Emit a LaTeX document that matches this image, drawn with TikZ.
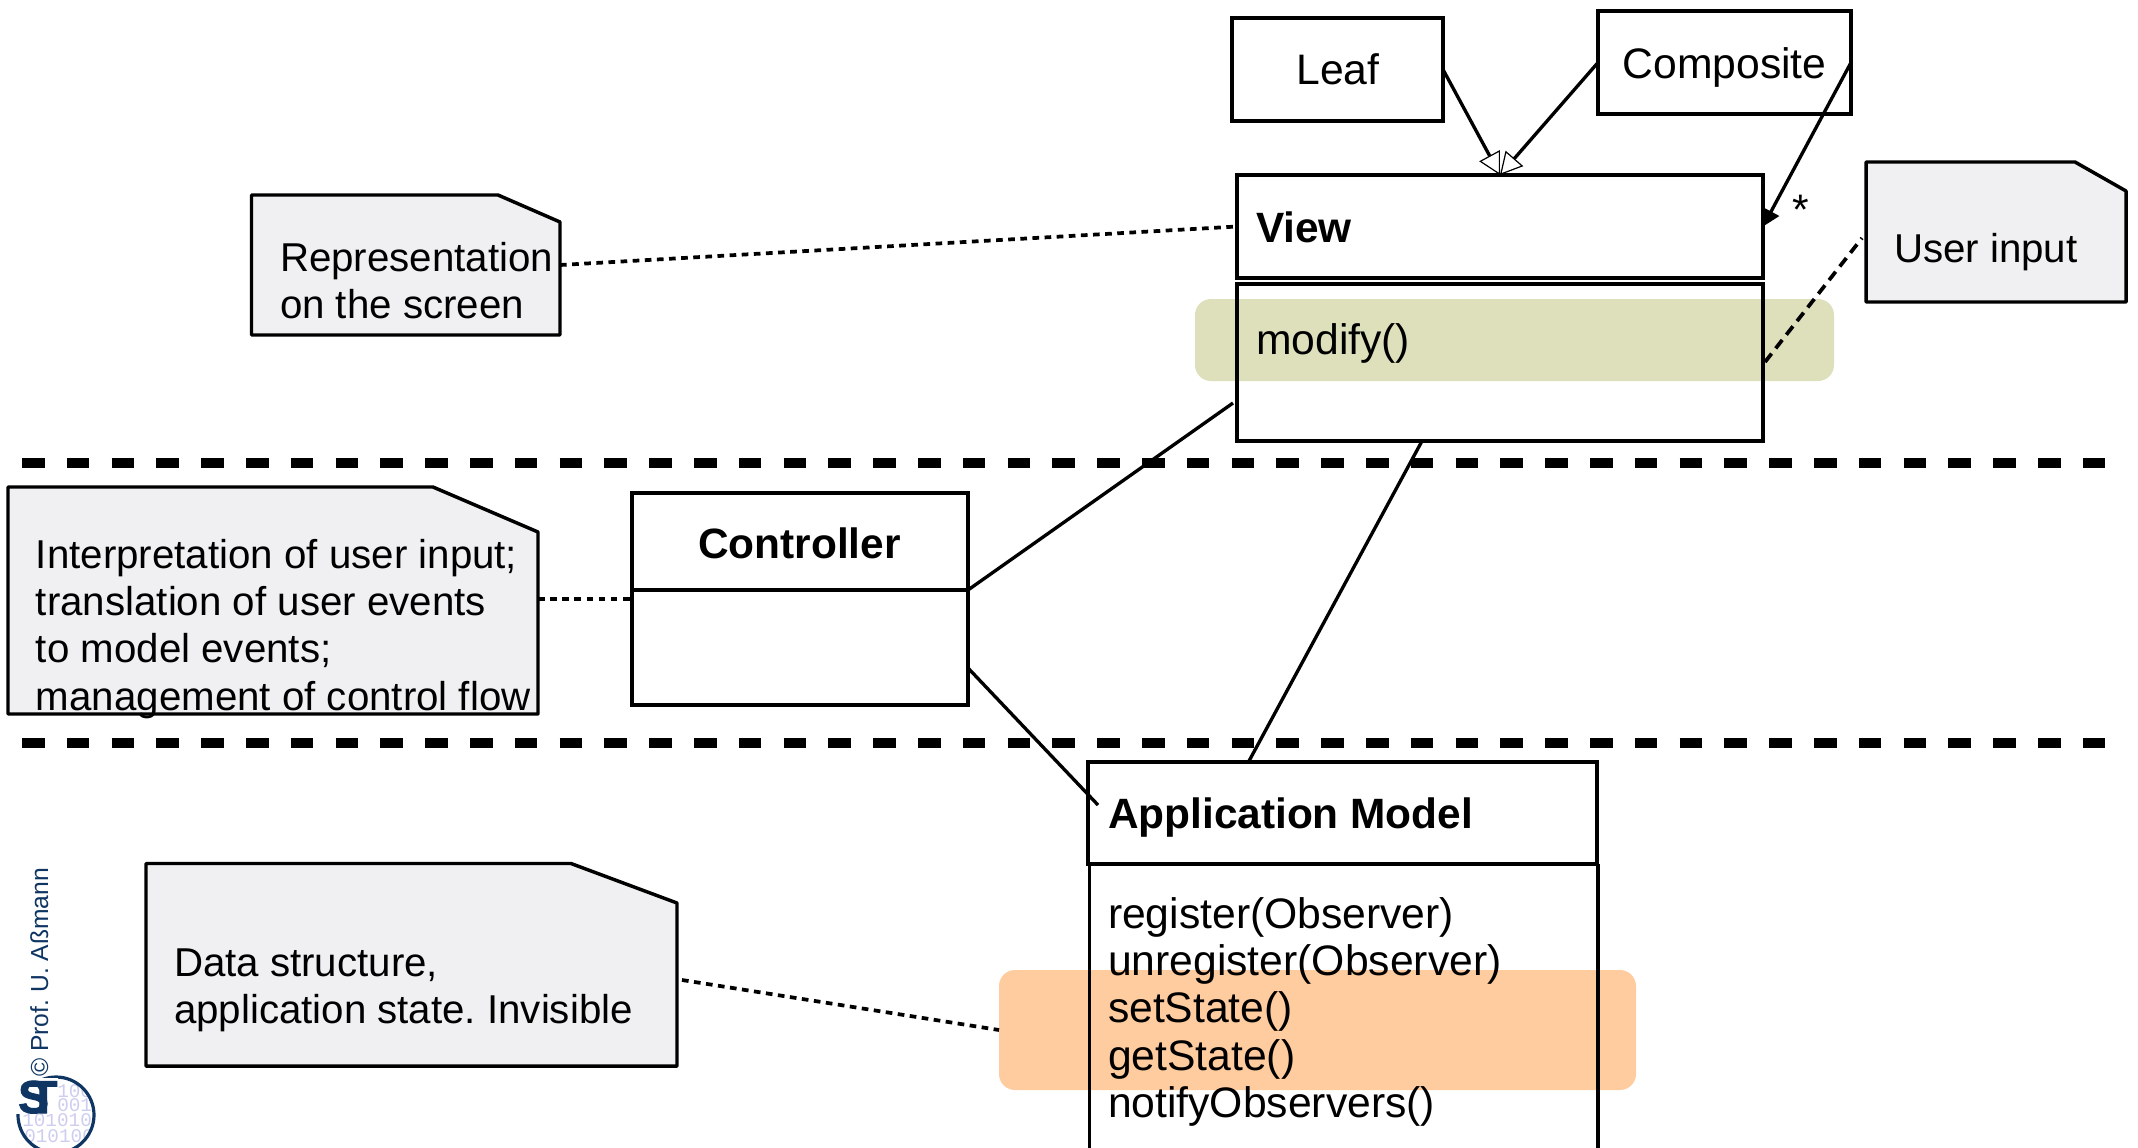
\documentclass[tikz,border=0pt]{standalone}
\usepackage{fontspec}
\setmainfont{Liberation Sans}
\newfontfamily\binfont{Liberation Mono}
\newfontfamily\stfont[FakeBold=2.2]{Liberation Sans Bold}
\usetikzlibrary{arrows.meta}
\def\px{*0.75pt}
\newcommand{\firstline}{\rule{0pt}{23.25pt}}
\definecolor{olivebar}{HTML}{DEDFBB}
\definecolor{orangebar}{HTML}{FFCC9F}
\definecolor{notefill}{HTML}{F0F0F2}
\definecolor{logoblue}{HTML}{0F3563}
\definecolor{logolav}{HTML}{CDCDF0}
\tikzset{
  x=0.75pt,y=-0.75pt,
  line join=miter,
  umlbox/.style={draw=black,line width=2.5pt,inner sep=0pt,outer sep=0pt,anchor=north west},
  label/.style={inner sep=0pt,outer sep=0pt,anchor=base west,font=\fontsize{32pt}{35.6pt}\selectfont,text=black},
  notelabel/.style={label,font=\fontsize{30.2pt}{35.6pt}\selectfont},
  boldlabel/.style={label,font=\fontsize{31.8pt}{35.6pt}\selectfont\bfseries},
  blocktext/.style={inner sep=0pt,outer sep=0pt,anchor=north west,align=left,font=\fontsize{32pt}{35.6pt}\selectfont,text=black},
  noteblock/.style={blocktext,font=\fontsize{30.2pt}{35.6pt}\selectfont},
  notebox/.style={draw=black,line width=2.6pt,fill=notefill,line join=round},
  assoc/.style={draw=black,line width=2.5pt},
  dotline/.style={draw=black,line width=2.8pt,dash pattern=on 5pt off 4.1pt},
  dashline/.style={draw=black,line width=2.8pt,dash pattern=on 8pt off 5pt},
  layerline/.style={draw=black,line width=8.2pt,dash pattern=on 16.95pt off 16.65pt},
  hollow/.style={-{Triangle[length=16.5pt,width=17.5pt,fill=white,line width=0.9pt]}},
  solidtip/.style={-{Triangle[length=12.75pt,width=13.5pt,fill=black]}},
  bar/.style={rounded corners=12pt,draw=none},
}
\begin{document}
\frenchspacing
\begin{tikzpicture}
\useasboundingbox (0,0) rectangle (2138,1147);
\clip (0,0) rectangle (2138,1147);
% highlight bars
\fill[olivebar,bar] (1195,299) rectangle (1834,381);
\fill[orangebar,bar] (999,970) rectangle (1636,1090);
% layer separators
\coordinate (l1a) at (22,463); \coordinate (l1b) at (2105,463);
\coordinate (l2a) at (22,743); \coordinate (l2b) at (2105,743);
\draw[layerline] (l1a) -- (l1b);
\draw[layerline] (l2a) -- (l2b);
% classes
\node[umlbox,minimum width=211\px,minimum height=103\px] (leaf) at (1232,18) {};
\node[umlbox,minimum width=253\px,minimum height=103\px] (composite) at (1598,11) {};
\node[umlbox,minimum width=526\px,minimum height=103\px] (view) at (1237,175) {};
\node[umlbox,minimum width=526\px,minimum height=157\px] (viewbody) at (1237,284) {};
\node[umlbox,minimum width=336\px,minimum height=97\px] (ctlhead) at (632,493) {};
\node[umlbox,minimum width=336\px,minimum height=115\px] (ctlbody) at (632,590) {};
\node[umlbox,minimum width=509\px,minimum height=102\px] (amhead) at (1088,762) {};
\coordinate (ambl) at (1089.5,864); \coordinate (ambr) at (1598,864);
\coordinate (amblb) at (1089.5,1150); \coordinate (ambrb) at (1598,1150);
\draw[assoc] (ambl) -- (amblb) (ambr) -- (ambrb) (ambl) -- (ambr);
% notes
\draw[notebox] (251.5,195) -- (498,195) -- (560,222) -- (560,335) -- (251.5,335) -- cycle;
\draw[notebox] (1866,162) -- (2075,162) -- (2126,191) -- (2126,302) -- (1866,302) -- cycle;
\draw[notebox] (8,487) -- (433,487) -- (538,532) -- (538,714) -- (8,714) -- cycle;
\draw[notebox] (146,863.5) -- (571,863.5) -- (677,903) -- (677,1066) -- (146,1066) -- cycle;
% class texts
\node[label,anchor=base] (leaft) at (1338,84.5) {Leaf};
\node[label,anchor=base] (compt) at (1724.5,78) {Composite};
\node[boldlabel] (viewt) at (1256,242) {View};
\node[label] (modt) at (1256,354) {modify()};
\node[boldlabel,anchor=base] (ctlt) at (799.5,558) {Controller};
\node[boldlabel] (amt) at (1108,828) {Application Model};
\node[blocktext] (ammeth) at (1108,897) {\firstline register(Observer)\\unregister(Observer)\\setState()\\getState()\\notifyObservers()};
\node[label] (star) at (1792,224) {*};
% note texts
\node[noteblock] (rept) at (280,240) {\firstline Representation\\on the screen};
\node[notelabel] (usert) at (1894,262) {User input};
\node[noteblock] (intt) at (36,537) {\firstline Interpretation of user input;\\translation of user events\\to model events;\\management of control flow};
\node[noteblock] (datat) at (174,945.5) {\firstline Data structure,\\application state. Invisible};
% connector ends
\coordinate (repr) at (560,265);
\coordinate (userl) at (1862,238);
\coordinate (viewr) at (1765,362);
\coordinate (intr) at (538,599);
\coordinate (ctll) at (632,599);
\coordinate (datar) at (682,980);
\coordinate (orl) at (999,1030);
\coordinate (viewl) at (1233,403);
\coordinate (ctlout) at (968,668);
\coordinate (amin) at (1098,805);
\coordinate (viewb) at (1422,441);
\coordinate (amt2) at (1249,761);
% connectors
\draw[assoc,hollow] (leaf.east) -- (view.north);
\draw[assoc,hollow] (composite.west) -- (view.north);
\draw[assoc,solidtip] (composite.east) -- (view.east);
\draw[dotline] (repr) -- (view.west);
\draw[dashline] (viewr) -- (userl);
\draw[dotline] (intr) -- (ctll);
\draw[dotline] (datar) -- (orl);
\draw[assoc] (ctlhead.south east) -- (viewl);
\draw[assoc] (ctlout) -- (amin);
\draw[assoc] (viewb) -- (amt2);
% logo
\begin{scope}
\clip (56,1115) circle (37);
\node[inner sep=0,anchor=base west,text=logolav,font=\binfont\fontsize{14.5pt}{14.5pt}\selectfont] (b1) at (57,1097) {100};
\node[inner sep=0,anchor=base west,text=logolav,font=\binfont\fontsize{14.5pt}{14.5pt}\selectfont] (b2) at (57,1111) {001};
\node[inner sep=0,anchor=base west,text=logolav,font=\binfont\fontsize{14.5pt}{14.5pt}\selectfont] (b3) at (22,1126) {101010};
\node[inner sep=0,anchor=base west,text=logolav,font=\binfont\fontsize{14.5pt}{14.5pt}\selectfont] (b4) at (24,1142) {010100};
\end{scope}
\draw[logoblue,line width=2.4pt] (56,1115) ++(85:38) arc[start angle=85,end angle=-275,radius=38];
\fill[white] (16,1078) rectangle (58,1114);
\node[inner sep=0,anchor=base west,text=logoblue,font=\stfont\fontsize{34.5pt}{34.5pt}\selectfont] (st) at (18,1113) {S\kern-14.8pt T};
\node[inner sep=0,anchor=base west,rotate=90,text=logoblue,font=\fontsize{18.5pt}{20pt}\selectfont] (copy) at (48,1077) {© Prof. U. Aßmann};
\end{tikzpicture}
\end{document}
